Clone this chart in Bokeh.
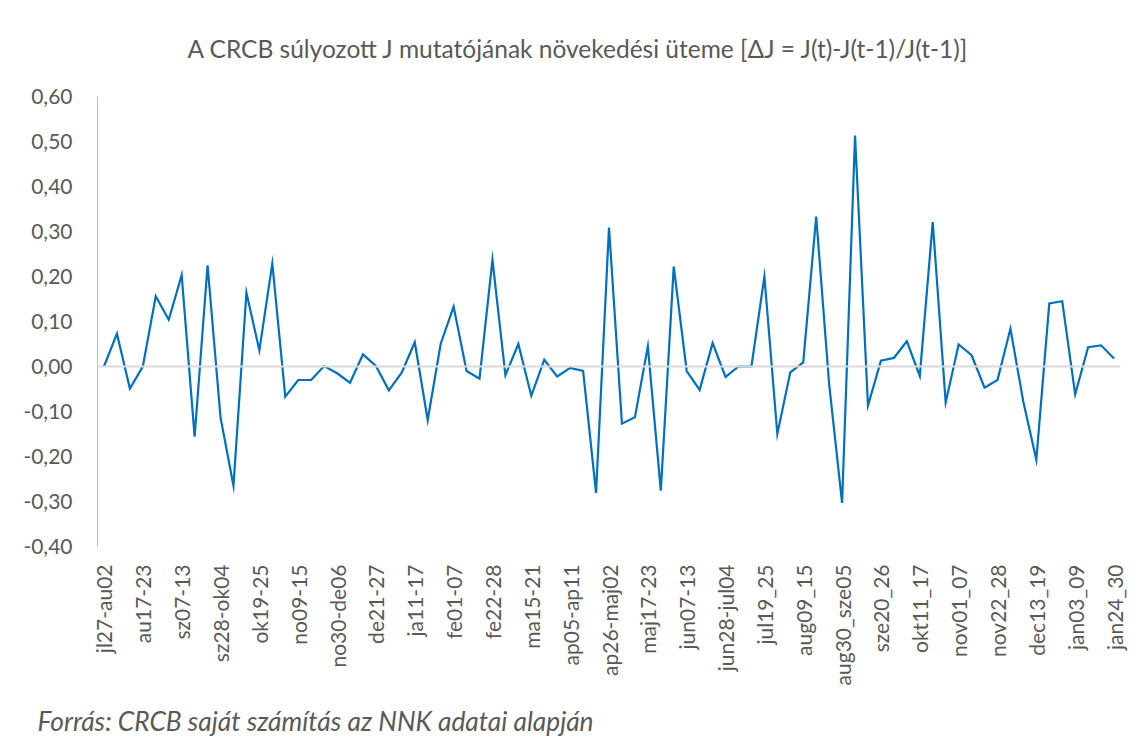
from bokeh.plotting import figure
from bokeh.models import FixedTicker, CustomJSTickFormatter, Span, Title
from bokeh.embed import file_html
from bokeh.resources import INLINE
import math

# ---- data ----
categories = [
    "jl27-au02", "au03-09", "au10-16", "au17-23", "au24-30", "au31-sz06",
    "sz07-13", "sz14-20", "sz21-27", "sz28-ok04", "ok05-11", "ok12-18",
    "ok19-25", "ok26-no01", "no02-08", "no09-15", "no16-22", "no23-29",
    "no30-de06", "de07-13", "de14-20", "de21-27", "de28-ja03", "ja04-10",
    "ja11-17", "ja18-24", "ja25-31", "fe01-07", "fe08-14", "fe15-21",
    "fe22-28", "ma01-07", "ma08-14", "ma15-21", "ma22-28", "ma29-ap04",
    "ap05-ap11", "ap12-18", "ap19-25", "ap26-maj02", "maj03-09", "maj10-16",
    "maj17-23", "maj24-30", "maj31-jun06", "jun07-13", "jun14-20", "jun21-27",
    "jun28-jul04", "jul05_11", "jul12_18", "jul19_25", "jul26_aug01", "aug02_08",
    "aug09_15", "aug16_22", "aug23_29", "aug30_sze05", "sze06_12", "sze13_19",
    "sze20_26", "sze27_okt03", "okt04_10", "okt11_17", "okt18_24", "okt25_31",
    "nov01_07", "nov08_14", "nov15_21", "nov22_28", "nov29_dec05", "dec06_12",
    "dec13_19", "dec20_26", "dec27_jan02", "jan03_09", "jan10_16", "jan17_23",
    "jan24_30",
]

delta_j = [
    0.000, 0.073, -0.049, 0.000, 0.156, 0.104, 0.203, -0.156, 0.225, -0.113,
    -0.265, 0.164, 0.036, 0.229, -0.067, -0.030, -0.030, 0.001, -0.015, -0.036,
    0.027, 0.001, -0.053, -0.013, 0.054, -0.119, 0.050, 0.133, -0.010, -0.027,
    0.237, -0.019, 0.050, -0.065, 0.015, -0.022, -0.003, -0.010, -0.281, 0.309,
    -0.127, -0.113, 0.045, -0.276, 0.222, -0.010, -0.052, 0.052, -0.023, 0.000,
    0.000, 0.200, -0.150, -0.013, 0.009, 0.333, -0.039, -0.303, 0.513, -0.087,
    0.013, 0.019, 0.056, -0.021, 0.321, -0.080, 0.049, 0.025, -0.047, -0.030,
    0.084, -0.079, -0.207, 0.140, 0.145, -0.062, 0.043, 0.047, 0.018,
]

y_ticks = [-0.4, -0.3, -0.2, -0.1, 0.0, 0.1, 0.2, 0.3, 0.4, 0.5, 0.6]
label_step = 3

title_text = "A CRCB súlyozott J mutatójának növekedési üteme [ΔJ = J(t)-J(t-1)/J(t-1)]"
source_text = "Forrás: CRCB saját számítás az NNK adatai alapján"

# ---- styling ----
FONT = "Lato"
GREY = "#595959"

x_idx = list(range(len(delta_j)))
x_ticks = x_idx[::label_step]

p = figure(
    width=1139, height=753,
    output_backend="svg", toolbar_location=None,
    x_range=(-0.5, len(delta_j) - 0.5),
    y_range=(y_ticks[0], y_ticks[-1]),
    min_border_left=97, min_border_right=19,
    min_border_top=96, min_border_bottom=207,
)

p.grid.visible = False
p.outline_line_color = None

p.title.text = title_text
p.title.align = "left"
p.title.offset = 90
p.title.standoff = 64
p.title.vertical_align = "top"
p.title.text_font = FONT
p.title.text_font_size = "24.5px"
p.title.text_font_style = "normal"
p.title.text_color = GREY

# y axis
p.yaxis.ticker = FixedTicker(ticks=y_ticks)
p.yaxis.formatter = CustomJSTickFormatter(code="return tick.toFixed(2).replace('.', ',');")
p.yaxis.axis_line_color = "#bfbfbf"
p.yaxis.axis_line_width = 1
p.yaxis.major_tick_line_color = None
p.yaxis.minor_tick_line_color = None
p.yaxis.major_label_standoff = 19
p.yaxis.major_label_text_font = FONT
p.yaxis.major_label_text_font_size = "21px"
p.yaxis.major_label_text_color = GREY

# x axis
p.xaxis.ticker = FixedTicker(ticks=x_ticks)
p.xaxis.major_label_overrides = {i: categories[i] for i in x_ticks}
p.xaxis.major_label_orientation = math.pi / 2
p.xaxis.axis_line_color = None
p.xaxis.major_tick_line_color = None
p.xaxis.minor_tick_line_color = None
p.xaxis.major_label_standoff = 12
p.xaxis.major_label_text_font = FONT
p.xaxis.major_label_text_font_size = "21px"
p.xaxis.major_label_text_color = GREY

# zero line
p.add_layout(Span(location=0, dimension="width", line_color="#d9d9d9", line_width=2))

p.line(x_idx, delta_j, line_color="#0070C0", line_width=2.2, line_join="miter")

p.add_layout(Title(
    text=source_text, align="left", offset=-60, standoff=29,
    vertical_align="bottom",
    text_font=FONT, text_font_size="26.3px", text_font_style="italic",
    text_color=GREY,
), "below")

open("out.html", "w").write(file_html(p, INLINE))
